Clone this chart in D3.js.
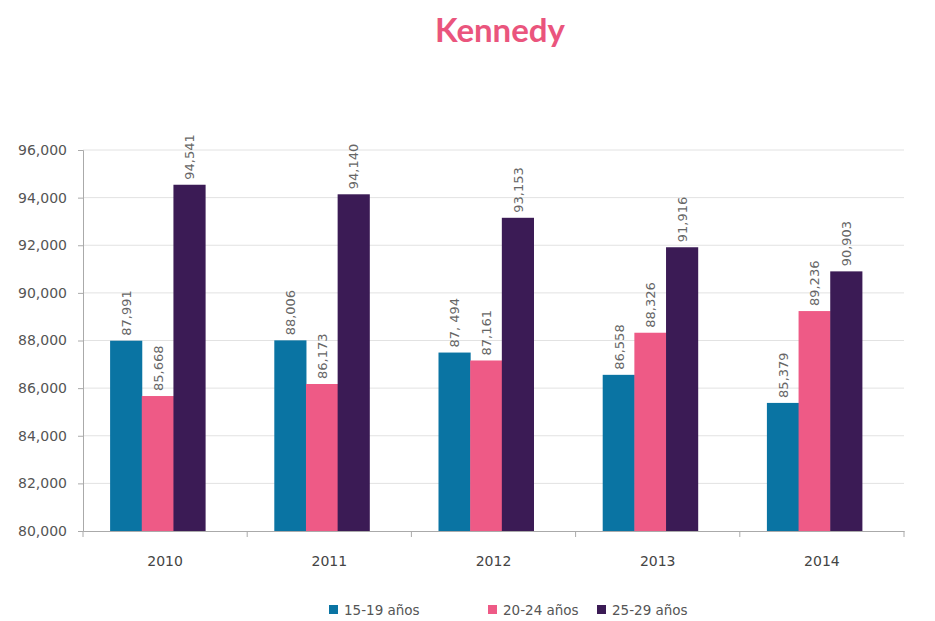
<!DOCTYPE html>
<html>
<head>
<meta charset="utf-8">
<script src="https://cdn.jsdelivr.net/npm/d3@7"></script>
<style>
  body { margin: 0; background: #fff; }
  svg text { font-family: "DejaVu Sans", sans-serif; }
</style>
</head>
<body>
<svg id="chart" width="935" height="621"></svg>
<script>
// data
var years = ["2010", "2011", "2012", "2013", "2014"];
var seriesNames = ["15-19 años", "20-24 años", "25-29 años"];
var serie1519 = [87991, 88006, 87494, 86558, 85379];
var serie2024 = [85668, 86173, 87161, 88326, 89236];
var serie2529 = [94541, 94140, 93153, 91916, 90903];
var valueLabels1519 = ["87,991", "88,006", "87, 494", "86,558", "85,379"];
var yTicks = [80000, 82000, 84000, 86000, 88000, 90000, 92000, 94000, 96000];

var colors = ["#0a74a3", "#ee5a86", "#3b1b55"];
var allSeries = [serie1519, serie2024, serie2529];

var svg = d3.select("#chart");
var margin = { top: 150, left: 83, right: 31, bottom: 90 };
var width = 935 - margin.left - margin.right,
    height = 621 - margin.top - margin.bottom;

var g = svg.append("g").attr("transform", "translate(" + margin.left + "," + margin.top + ")");

var x = d3.scaleBand().domain(years).range([0, width]);
var y = d3.scaleLinear().domain([80000, 96000]).range([height, 0]);
var xs = d3.scaleBand().domain(d3.range(3)).range([0, 95]);

// title
svg.append("text")
  .attr("x", 500).attr("y", 42)
  .attr("text-anchor", "middle")
  .style("font-family", "Lato, sans-serif")
  .style("font-size", "33px").style("font-weight", "bold")
  .style("fill", "#ea557d")
  .text("Kennedy");

// gridlines
g.selectAll(".grid")
  .data(yTicks.slice(1))
  .enter().append("line")
  .attr("x1", 0).attr("x2", width)
  .attr("y1", function(d) { return y(d); })
  .attr("y2", function(d) { return y(d); })
  .style("stroke", "#e2e2e2").style("stroke-width", 1);

// bars
years.forEach(function(yr, i) {
  var gx = x(yr) + x.bandwidth() / 2 - 55;
  allSeries.forEach(function(s, k) {
    g.append("rect")
      .attr("x", gx + xs(k))
      .attr("y", y(s[i]))
      .attr("width", xs.bandwidth() + 0.5)
      .attr("height", height - y(s[i]))
      .style("fill", colors[k]);
    var lbl = k === 0 ? valueLabels1519[i] : d3.format(",")(s[i]);
    var lx = gx + xs(k) + xs.bandwidth() / 2 + 5;
    var ly = y(s[i]) - 5;
    g.append("text")
      .attr("transform", "translate(" + lx + "," + ly + ") rotate(-90)")
      .style("font-size", "13px").style("fill", "#666")
      .text(lbl);
  });
});

// y axis
var yAxis = g.append("g")
  .call(d3.axisLeft(y).tickValues(yTicks).tickFormat(d3.format(",")).tickSize(5).tickPadding(11));
yAxis.selectAll("text").style("font-size", "14px").style("fill", "#555");
yAxis.selectAll("line, path").style("stroke", "#aaa");

// x axis
var xAxis = g.append("g").attr("transform", "translate(0," + height + ")")
  .call(d3.axisBottom(x).tickSize(0).tickPadding(25));
xAxis.select("path").style("stroke", "#aaa");
xAxis.selectAll("text").style("font-size", "14px").style("fill", "#444");
g.selectAll(".xtick")
  .data(years.map(function(d) { return x(d); }).concat([width]))
  .enter().append("line")
  .attr("x1", function(d) { return d; }).attr("x2", function(d) { return d; })
  .attr("y1", height).attr("y2", height + 6)
  .style("stroke", "#aaa");

// legend
var legendX = [329, 488, 597];
var legend = svg.selectAll(".legend")
  .data(seriesNames)
  .enter().append("g")
  .attr("transform", function(d, i) { return "translate(" + legendX[i] + ",605)"; });
legend.append("rect")
  .attr("width", 9).attr("height", 9)
  .style("fill", function(d, i) { return colors[i]; });
legend.append("text")
  .attr("x", 15).attr("y", 10)
  .style("font-size", "13.5px").style("fill", "#555")
  .text(function(d) { return d; });
</script>
</body>
</html>
